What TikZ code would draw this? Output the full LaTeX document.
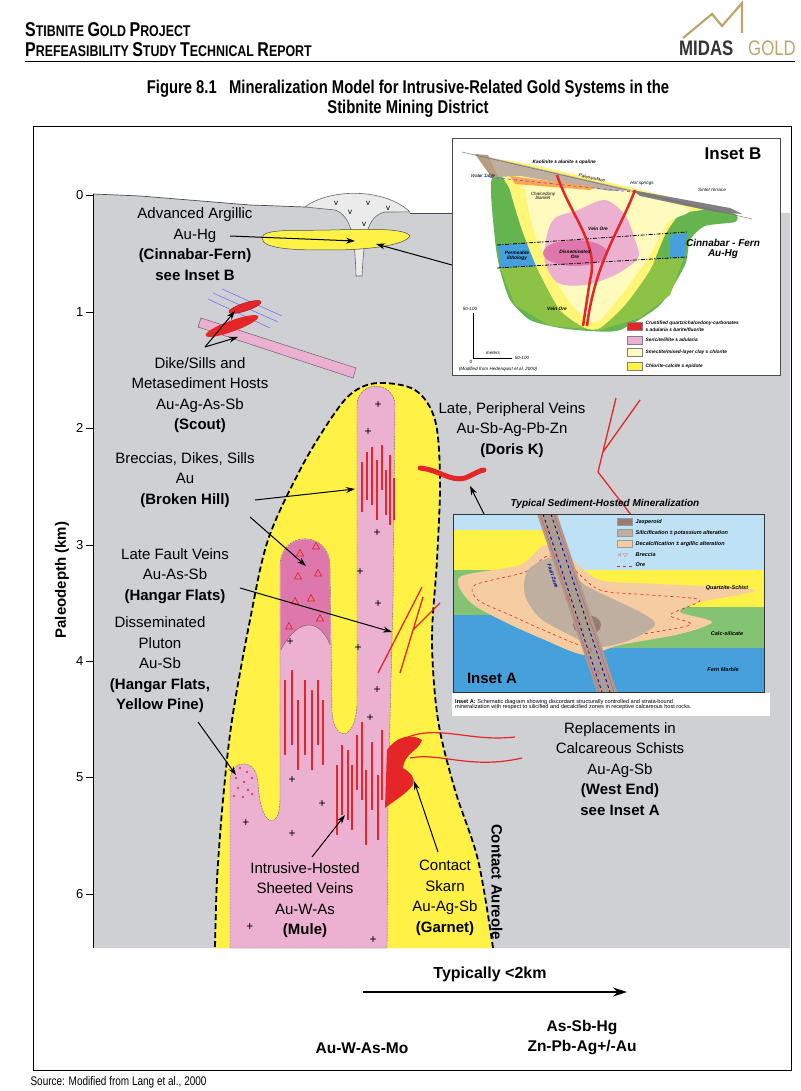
\documentclass[tikz,border=0pt]{standalone}
\usepackage{fontspec}
\setmainfont{Liberation Sans}
\newfontfamily\narrow{Liberation Sans}[FakeStretch=0.8]
\usetikzlibrary{arrows.meta}
\definecolor{bg}{RGB}{207,208,211}
\definecolor{yel}{RGB}{255,241,70}
\definecolor{pk}{RGB}{236,176,208}
\definecolor{dpk}{RGB}{222,120,172}
\definecolor{rd}{RGB}{228,38,40}
\definecolor{gold}{RGB}{190,165,110}
\definecolor{lyel}{RGB}{255,250,190}
\definecolor{grn}{RGB}{100,180,80}
\definecolor{lgrn}{RGB}{140,195,70}
\definecolor{blu}{RGB}{70,160,220}
\definecolor{lblu}{RGB}{190,225,245}
\definecolor{peach}{RGB}{245,205,160}
\definecolor{tan}{RGB}{190,175,160}
\definecolor{jasp}{RGB}{150,125,115}
\newcommand{\fs}[1]{\fontsize{#1}{#1}\selectfont}
\tikzset{
 lbl/.style={align=center,font=\fontsize{15}{20.5}\selectfont},
 arr/.style={-{Stealth[length=9pt,width=6pt]},line width=1pt},
 vein/.style={rd,line width=1.3pt},
 tiny/.style={font=\fs{4.6}\itshape,inner sep=0.5pt},
 tinyb/.style={font=\fs{4.8}\bfseries\itshape,inner sep=0.5pt,anchor=west},
}
\begin{document}
\begin{tikzpicture}[x=1pt,y=-1pt]
\useasboundingbox (0,0) rectangle (800,1091);
% header
\node[anchor=west,font=\narrow\bfseries,inner sep=0] (h1) at (25,30) {{\fs{20}S}{\fs{15.5}TIBNITE }{\fs{20}G}{\fs{15.5}OLD }{\fs{20}P}{\fs{15.5}ROJECT}};
\node[anchor=west,font=\narrow\bfseries,inner sep=0] (h2) at (25,50) {{\fs{20}P}{\fs{15.5}REFEASIBILITY }{\fs{20}S}{\fs{15.5}TUDY }{\fs{20}T}{\fs{15.5}ECHNICAL }{\fs{20}R}{\fs{15.5}EPORT}};
\draw[line width=1pt] (25,62) -- (795,62);
\draw[gold,line width=2.2pt,line join=miter] (683,38) -- (712,14) -- (722,26) -- (742,3) -- (742,33);
\node[anchor=west,font=\narrow\bfseries\fs{21},text=black!80,inner sep=0] (m1) at (679,48) {MIDAS};
\node[anchor=west,font=\narrow\fs{21},text=gold,inner sep=0] (m2) at (748,48) {GOLD};
\node[font=\narrow\bfseries\fs{18.5}] (t1) at (408,89) {Figure 8.1\ \ \ Mineralization Model for Intrusive-Related Gold Systems in the};
\node[font=\narrow\bfseries\fs{18.5}] (t2) at (408,109) {Stibnite Mining District};
% frame
\draw[line width=1pt] (33,127) rectangle (791,1070);
% gray ground
\fill[bg] (93,194) -- (140,196) -- (250,205) -- (305,207) -- (410,213) -- (790,213) -- (790,948) -- (93,948) -- cycle;
\draw[black!70,line width=0.7pt] (93,194) -- (140,196) -- (250,205) -- (305,207);
\draw[black!70,line width=0.7pt] (410,213) -- (452,213);
% volcano
\filldraw[fill=black!8,draw=black!60,line width=0.6pt] (305,207) .. controls (330,188) and (385,188) .. (410,212) -- (385,212) .. controls (366,216) and (364,240) .. (362,276) -- (356,276) .. controls (355,240) and (352,216) .. (335,210) -- cycle;
\foreach \x/\y in {336/203,350/212,368/203,388/208,364/224} \node[font=\fs{8}] at (\x,\y) {v};
% lens
\filldraw[fill=yel,draw=black!70,line width=0.5pt] (262,238) .. controls (262,228) and (300,231) .. (330,230) .. controls (370,229) and (405,228) .. (410,236) .. controls (405,245) and (370,250) .. (330,250) .. controls (300,250) and (262,250) .. (262,238) -- cycle;
% depth axis
\draw[line width=0.8pt] (93,194) -- (93,948);
\foreach \i/\y in {0/195,1/312,2/428,3/545,4/661,5/777,6/894} {\draw[line width=0.8pt] (86,\y) -- (93,\y); \node[font=\fs{13},anchor=east] at (87,\y) {\i};}
\node[rotate=90,font=\bfseries\fs{15}] (pd) at (62,580) {Paleodepth (km)};
% dike
\draw[blue!60,line width=0.5pt] (213,293) -- (278,322) (208,299) -- (270,328) (222,289) -- (282,316);
\filldraw[fill=rd,draw=rd!70!black,line width=0.4pt,rotate around={18:(245,307)}] (245,307) ellipse (17 and 4);
\filldraw[fill=pk,draw=black!60,line width=0.5pt] (201,318) -- (356,368) -- (353,378) -- (198,327) -- cycle;
\fill[rd,rotate around={20:(232,326)}] (232,326) ellipse (28 and 5.5);
% aureole
\fill[yel] plot[smooth,tension=0.55] coordinates {(493,948) (478,860) (455,790) (438,720) (432,640) (437,560) (440,480) (435,420) (415,390) (378,383) (352,393) (330,420) (300,470) (268,540) (250,620) (232,720) (223,800) (217,880) (215,948)} -- cycle;
\draw[line width=1.8pt,dash pattern=on 6pt off 3pt] plot[smooth,tension=0.55] coordinates {(493,948) (478,860) (455,790) (438,720) (432,640) (437,560) (440,480) (435,420) (415,390) (378,383) (352,393) (330,420) (300,470) (268,540) (250,620) (232,720) (223,800) (217,880) (215,948)};
% pink hand
\filldraw[fill=pk,draw=black!60,line width=0.4pt,dash pattern=on 2pt off 1pt] (230,948) -- (230,780) .. controls (232,758) and (256,758) .. (258,782) .. controls (260,830) and (280,830) .. (280,800) -- (280,565) .. controls (281,530) and (329,530) .. (330,565) -- (332,712) .. controls (334,742) and (355,742) .. (357,705) -- (357,405) .. controls (358,380) and (394,380) .. (395,405) -- (393,600) -- (388,800) -- (387,948) -- cycle;
\fill[dpk] (280.6,650) -- (280.6,565) .. controls (281.5,531) and (328.5,531) .. (329.5,565) -- (330.3,645) .. controls (320,620) and (300,615) .. (280.6,650) -- cycle;
\draw[black!60,line width=0.4pt] (280.6,650) .. controls (300,615) and (320,620) .. (330.3,645);
% breccia triangles
\foreach \x/\y in {300/553,316/546,298/576,318/573,311/598,295/601,320/618,289/626} \draw[rd,line width=0.7pt] (\x-3.5,\y+3) -- (\x+3.5,\y+3) -- (\x,\y-3.5) -- cycle;
% dots
\foreach \x/\y in {240/768,247/772,236/778,244/782,252/778,238/788,248/790,234/796,243/797,252/794} \fill[rd] (\x,\y) circle (1.1);
% veins
\foreach \x/\a/\b in {362/462/512,367/452/500,372/447/505,377/460/520,382/445/490,386/470/515,390/455/525,394/478/520,285/680/755,292/670/745,298/700/770,305/680/755,312/690/770,318/680/745,323/700/765,337/765/835,342/745/815,348/750/820,352/765/830,357/735/790,362/722/800,366/770/845,372/742/810,378/775/840,382/730/800}
  \draw[vein] (\x,\a) -- (\x,\b);
% plus signs
\foreach \x/\y in {378/405,368/432,377/533,360/572,378/604,358/648,377/690,370/718,290/642,292/780,322/804,246/823,292/834,250/927,373/940}
  \node[font=\fs{12}] at (\x,\y) {+};
% fault veins
\draw[vein] (378,673) -- (422,587) (400,673) -- (423,597) (413,630) -- (440,603);
% Doris K
\draw[rd,line width=5pt,line cap=round] (420,468) .. controls (440,470) and (450,482) .. (465,478) .. controls (475,474) and (480,470) .. (484,470);
% peripheral veins
\draw[vein] (598,472) -- (616,398) (603,452) -- (640,400) (598,472) -- (635,520);
% skarn
\fill[rd] (385,808) -- (387,750) .. controls (395,738) and (410,732) .. (422,740) .. controls (418,752) and (405,752) .. (403,768) .. controls (410,772) and (416,778) .. (413,785) .. controls (405,795) and (395,800) .. (385,808) -- cycle;
\draw[rd,line width=1.2pt] (408,737) .. controls (440,725) and (470,742) .. (515,737);
\draw[rd,line width=1.2pt] (410,758) .. controls (440,752) and (470,770) .. (522,758);
% inset B
\begin{scope}
\filldraw[fill=white,draw=black!70,line width=0.8pt] (452,138) rectangle (780,375);
\node[font=\bfseries\fs{17}] (ib) at (733,154) {Inset B};
\fill[grn] plot[smooth cycle,tension=0.4] coordinates {(492,178) (525,175) (700,205) (735,214) (735,222) (705,226) (690,240) (685,265) (660,305) (620,330) (590,331) (560,328) (530,320) (510,300) (500,270) (495,240)};
\fill[lgrn] (500,268) -- (684,258) -- (670,295) -- (640,318) -- (600,330) -- (550,326) -- (515,305) -- cycle;
\fill[blu] (498,245) -- (540,243) -- (540,266) -- (500,268) -- cycle;
\fill[blu] (670,235) -- (687,233) -- (685,257) -- (670,258) -- cycle;
\fill[yel!60!lyel] plot[smooth cycle,tension=0.4] coordinates {(505,160) (700,205) (680,214) (665,235) (650,270) (625,305) (600,328) (585,328) (560,310) (538,270) (522,230) (510,190)};
\fill[lyel] plot[smooth cycle,tension=0.4] coordinates {(522,168) (685,207) (668,222) (650,255) (625,290) (600,320) (588,320) (568,300) (548,265) (532,225) (525,190)};
\fill[pk] plot[smooth cycle,tension=0.5] coordinates {(555,218) (578,210) (605,200) (625,215) (635,240) (638,258) (615,275) (585,285) (558,283) (545,262) (547,235)};
\fill[dpk] (575,253) ellipse (32 and 13);
\fill[tan] (475,154) -- (632,190) -- (610,191) -- (520,176) -- (495,177) -- cycle;
\fill[brown!70!black!60] (475,154) -- (488,155) -- (498,177) -- (492,178) -- cycle;
\fill[orange!70] (510,176) -- (595,187) -- (590,190) -- (515,184) -- cycle;
\fill[black!50] (632,190) -- (730,208) -- (742,214) -- (715,212) -- (640,196) -- cycle;
\draw[black!60,line width=0.4pt] (462,152) -- (752,219);
\draw[blue!70,line width=0.6pt,dashed] (478,176) -- (632,192);
\draw[black,line width=0.8pt,dash pattern=on 4pt off 1.5pt on 1pt off 1.5pt] (497,245) -- (687,232) (497,268) -- (687,257);
\draw[rd,line width=2.5pt] (557,175) .. controls (570,215) and (600,245) .. (590,280) -- (583,326);
\draw[rd,line width=2.5pt] (635,190) .. controls (620,230) and (595,262) .. (587,326);
\node[tinyb] at (532,162) {Kaolinite ± alunite ± opaline};
\node[tiny,rotate=-12] at (592,178) {Paleosurface};
\node[tiny,anchor=east] at (496,176) {Water Table};
\node[tiny,align=center] at (543,196) {Chalcedony\\blanket};
\node[tiny] at (642,183) {Hot springs};
\node[tiny] at (712,190) {Sinter terrace};
\node[tinyb,anchor=center] at (598,229) {Vein Ore};
\node[tinyb,anchor=center,align=center] at (575,254) {Disseminated\\Ore};
\node[tinyb,anchor=center,align=center] at (517,256) {Permeable\\lithology};
\node[tinyb,anchor=center] at (557,309) {Vein Ore};
\node[font=\bfseries\itshape\fs{10},align=center] (cf) at (723,249) {Cinnabar - Fern\\Au-Hg};
\draw[line width=1pt] (473,313) -- (473,358) -- (512,358);
\node[tiny] at (470,309) {50-100};
\node[tiny] at (493,353) {meters};
\node[tiny] at (522,358) {50-100};
\node[tiny] at (471,362) {0};
\node[tiny] at (498,369) {(Modified from Hedenquist et al, 2000)};
\foreach \c/\y in {rd/322,pk/336,lyel/348,yel/362} \filldraw[fill=\c,draw=black!50,line width=0.3pt] (627,\y) rectangle (642,\y+8);
\node[tinyb] at (645,323) {Crustified quartz/chalcedony-carbonates};
\node[tinyb] at (645,330) {± adularia ± barite/fluorite};
\node[tinyb] at (645,340) {Sericite/illite ± adularia};
\node[tinyb] at (645,352) {Smectite/mixed-layer clay ± chlorite};
\node[tinyb] at (645,366) {Chlorite-calcite ± epidote};
\end{scope}
% inset A
\node[font=\bfseries\itshape\fs{10}] (ta) at (605,504) {Typical Sediment-Hosted Mineralization};
\begin{scope}
\clip (453,514) rectangle (764,692);
\fill[lblu] (453,514) rectangle (764,692);
\fill[yel] (453,530) rectangle (560,570);
\fill[grn!80] (453,570) rectangle (570,615);
\fill[yel] (560,570) rectangle (764,607);
\fill[grn!80] (570,607) rectangle (764,648);
\fill[blu] (453,615) -- (580,615) -- (600,648) -- (764,648) -- (764,692) -- (453,692) -- cycle;
\fill[peach] plot[smooth cycle,tension=0.5] coordinates {(460,577) (520,565) (545,545) (570,558) (600,580) (660,584) (755,590) (700,602) (680,612) (712,622) (680,634) (620,645) (585,655) (545,640) (505,622) (470,602)};
\draw[rd,line width=0.6pt,dashed] plot[smooth cycle,tension=0.5] coordinates {(475,585) (525,572) (548,556) (572,568) (600,590) (650,595) (700,600) (670,615) (690,625) (620,638) (588,647) (548,632) (510,615) (478,600)};
\fill[tan] plot[smooth cycle,tension=0.5] coordinates {(528,570) (555,558) (585,585) (640,612) (655,625) (630,640) (598,647) (570,635) (540,618) (525,595)};
\fill[jasp] (587,625) ellipse (14 and 10);
\fill[tan!90!black] (537,514) -- (557,514) -- (617,692) -- (597,692) -- cycle;
\draw[rd!80,line width=0.5pt] (540,514) -- (599,692) (554,514) -- (614,692);
\draw[blue!70!black,line width=0.9pt,dashed] (543,514) -- (602,692) (551,514) -- (610,692);
\foreach \x/\y in {548/530,556/555,562/575,568/598,578/620,590/650,598/672} \draw[rd!80,line width=0.4pt] (\x-2,\y+2) -- (\x+2,\y+2) -- (\x,\y-2) -- cycle;
\node[font=\bfseries\itshape\fs{5},text=blue!60!black,rotate=-72] at (553,576) {Fault Zone};
\node[font=\bfseries\fs{15}] at (492,678) {Inset A};
\node[font=\bfseries\itshape\fs{5.5}] at (727,588) {Quartzite-Schist};
\node[font=\bfseries\itshape\fs{5.5}] at (727,634) {Calc-silicate};
\node[font=\bfseries\itshape\fs{5.5}] at (723,670) {Fern Marble};
\foreach \c/\y in {jasp/518,tan/529,peach/540} \filldraw[fill=\c,draw=black!40,line width=0.3pt] (617,\y) rectangle (632,\y+7);
\draw[rd,line width=0.6pt,dashed] (617,566) -- (632,566);
\node[font=\fs{5.5},text=rd] at (623,555) {$\triangleleft\,\bigtriangledown$};
\node[tinyb,font=\bfseries\itshape\fs{5.5}] at (635,522) {Jasperoid};
\node[tinyb,font=\bfseries\itshape\fs{5.5}] at (635,533) {Silicification ± potassium alteration};
\node[tinyb,font=\bfseries\itshape\fs{5.5}] at (635,544) {Decalcification ± argillic alteration};
\node[tinyb,font=\bfseries\itshape\fs{5.5}] at (635,555) {Breccia};
\node[tinyb,font=\bfseries\itshape\fs{5.5}] at (635,565) {Ore};
\end{scope}
\draw[black!80,line width=0.8pt] (453,514) rectangle (764,692);
\fill[white] (452,693) rectangle (770,716);
\node[anchor=west,font=\fs{5.6},align=left,inner sep=0] (cap) at (455,704.5) {\textbf{Inset A:} Schematic diagram showing discordant structurally controlled and strata-bound\\[-1.5pt]mineralization with respect to silicified and decalcified zones in receptive calcareous host rocks.};
% labels
\node[lbl] (l1) at (195,244) {Advanced Argillic\\Au-Hg\\\textbf{(Cinnabar-Fern)}\\\textbf{see Inset B}};
\node[lbl] (l2) at (200,395) {Dike/Sills and\\Metasediment Hosts\\Au-Ag-As-Sb\\\textbf{(Scout)}};
\node[lbl] (l3) at (185,480) {Breccias, Dikes, Sills\\Au\\\textbf{(Broken Hill)}};
\node[lbl] (l4) at (175,576) {Late Fault Veins\\Au-As-Sb\\\textbf{(Hangar Flats)}};
\node[lbl] (l5) at (160,665) {Disseminated\\Pluton\\Au-Sb\\\textbf{(Hangar Flats,}\\\textbf{Yellow Pine)}};
\node[lbl] (l6) at (512,430) {Late, Peripheral Veins\\Au-Sb-Ag-Pb-Zn\\\textbf{(Doris K)}};
\node[lbl] (l7) at (620,769) {Replacements in\\Calcareous Schists\\Au-Ag-Sb\\\textbf{(West End)}\\\textbf{see Inset A}};
\node[lbl] (l8) at (305,900) {Intrusive-Hosted\\Sheeted Veins\\Au-W-As\\\textbf{(Mule)}};
\node[lbl] (l9) at (445,898) {Contact\\Skarn\\Au-Ag-Sb\\\textbf{(Garnet)}};
\node[rotate=-90,font=\bfseries\fs{15}] (ca) at (497,882) {Contact Aureole};
% arrows
\draw[arr] (230,236) -- (355,241);
\draw[arr] (452,265) -- (376,244);
\draw[arr] (205,347) -- (235,311);
\draw[arr] (205,347) -- (238,337);
\draw[arr] (255,500) -- (355,489);
\draw[arr] (250,517) -- (306,566);
\draw[arr] (240,588) -- (392,632);
\draw[arr] (198,722) -- (236,775);
\draw[arr] (484,514) -- (470,486);
\draw[arr] (312,857) -- (345,815);
\draw[arr] (438,852) -- (414,781);
% bottom
\node[font=\bfseries\fs{16}] (ty) at (490,974) {Typically <2km};
\coordinate (a1) at (363,992);
\coordinate (a2) at (627,992);
\draw[-{Stealth[length=14pt,width=9pt]},line width=1.6pt] (a1) -- (a2);
\node[font=\bfseries\fs{15.5}] (b1) at (362,1048) {Au-W-As-Mo};
\node[font=\bfseries\fontsize{15.5}{20}\selectfont,align=center] (b2) at (582,1038) {As-Sb-Hg\\Zn-Pb-Ag+/-Au};
\node[anchor=west,font=\narrow\fs{12.5}] (src) at (27,1082) {Source: Modified from Lang et al., 2000};
\end{tikzpicture}
\end{document}
